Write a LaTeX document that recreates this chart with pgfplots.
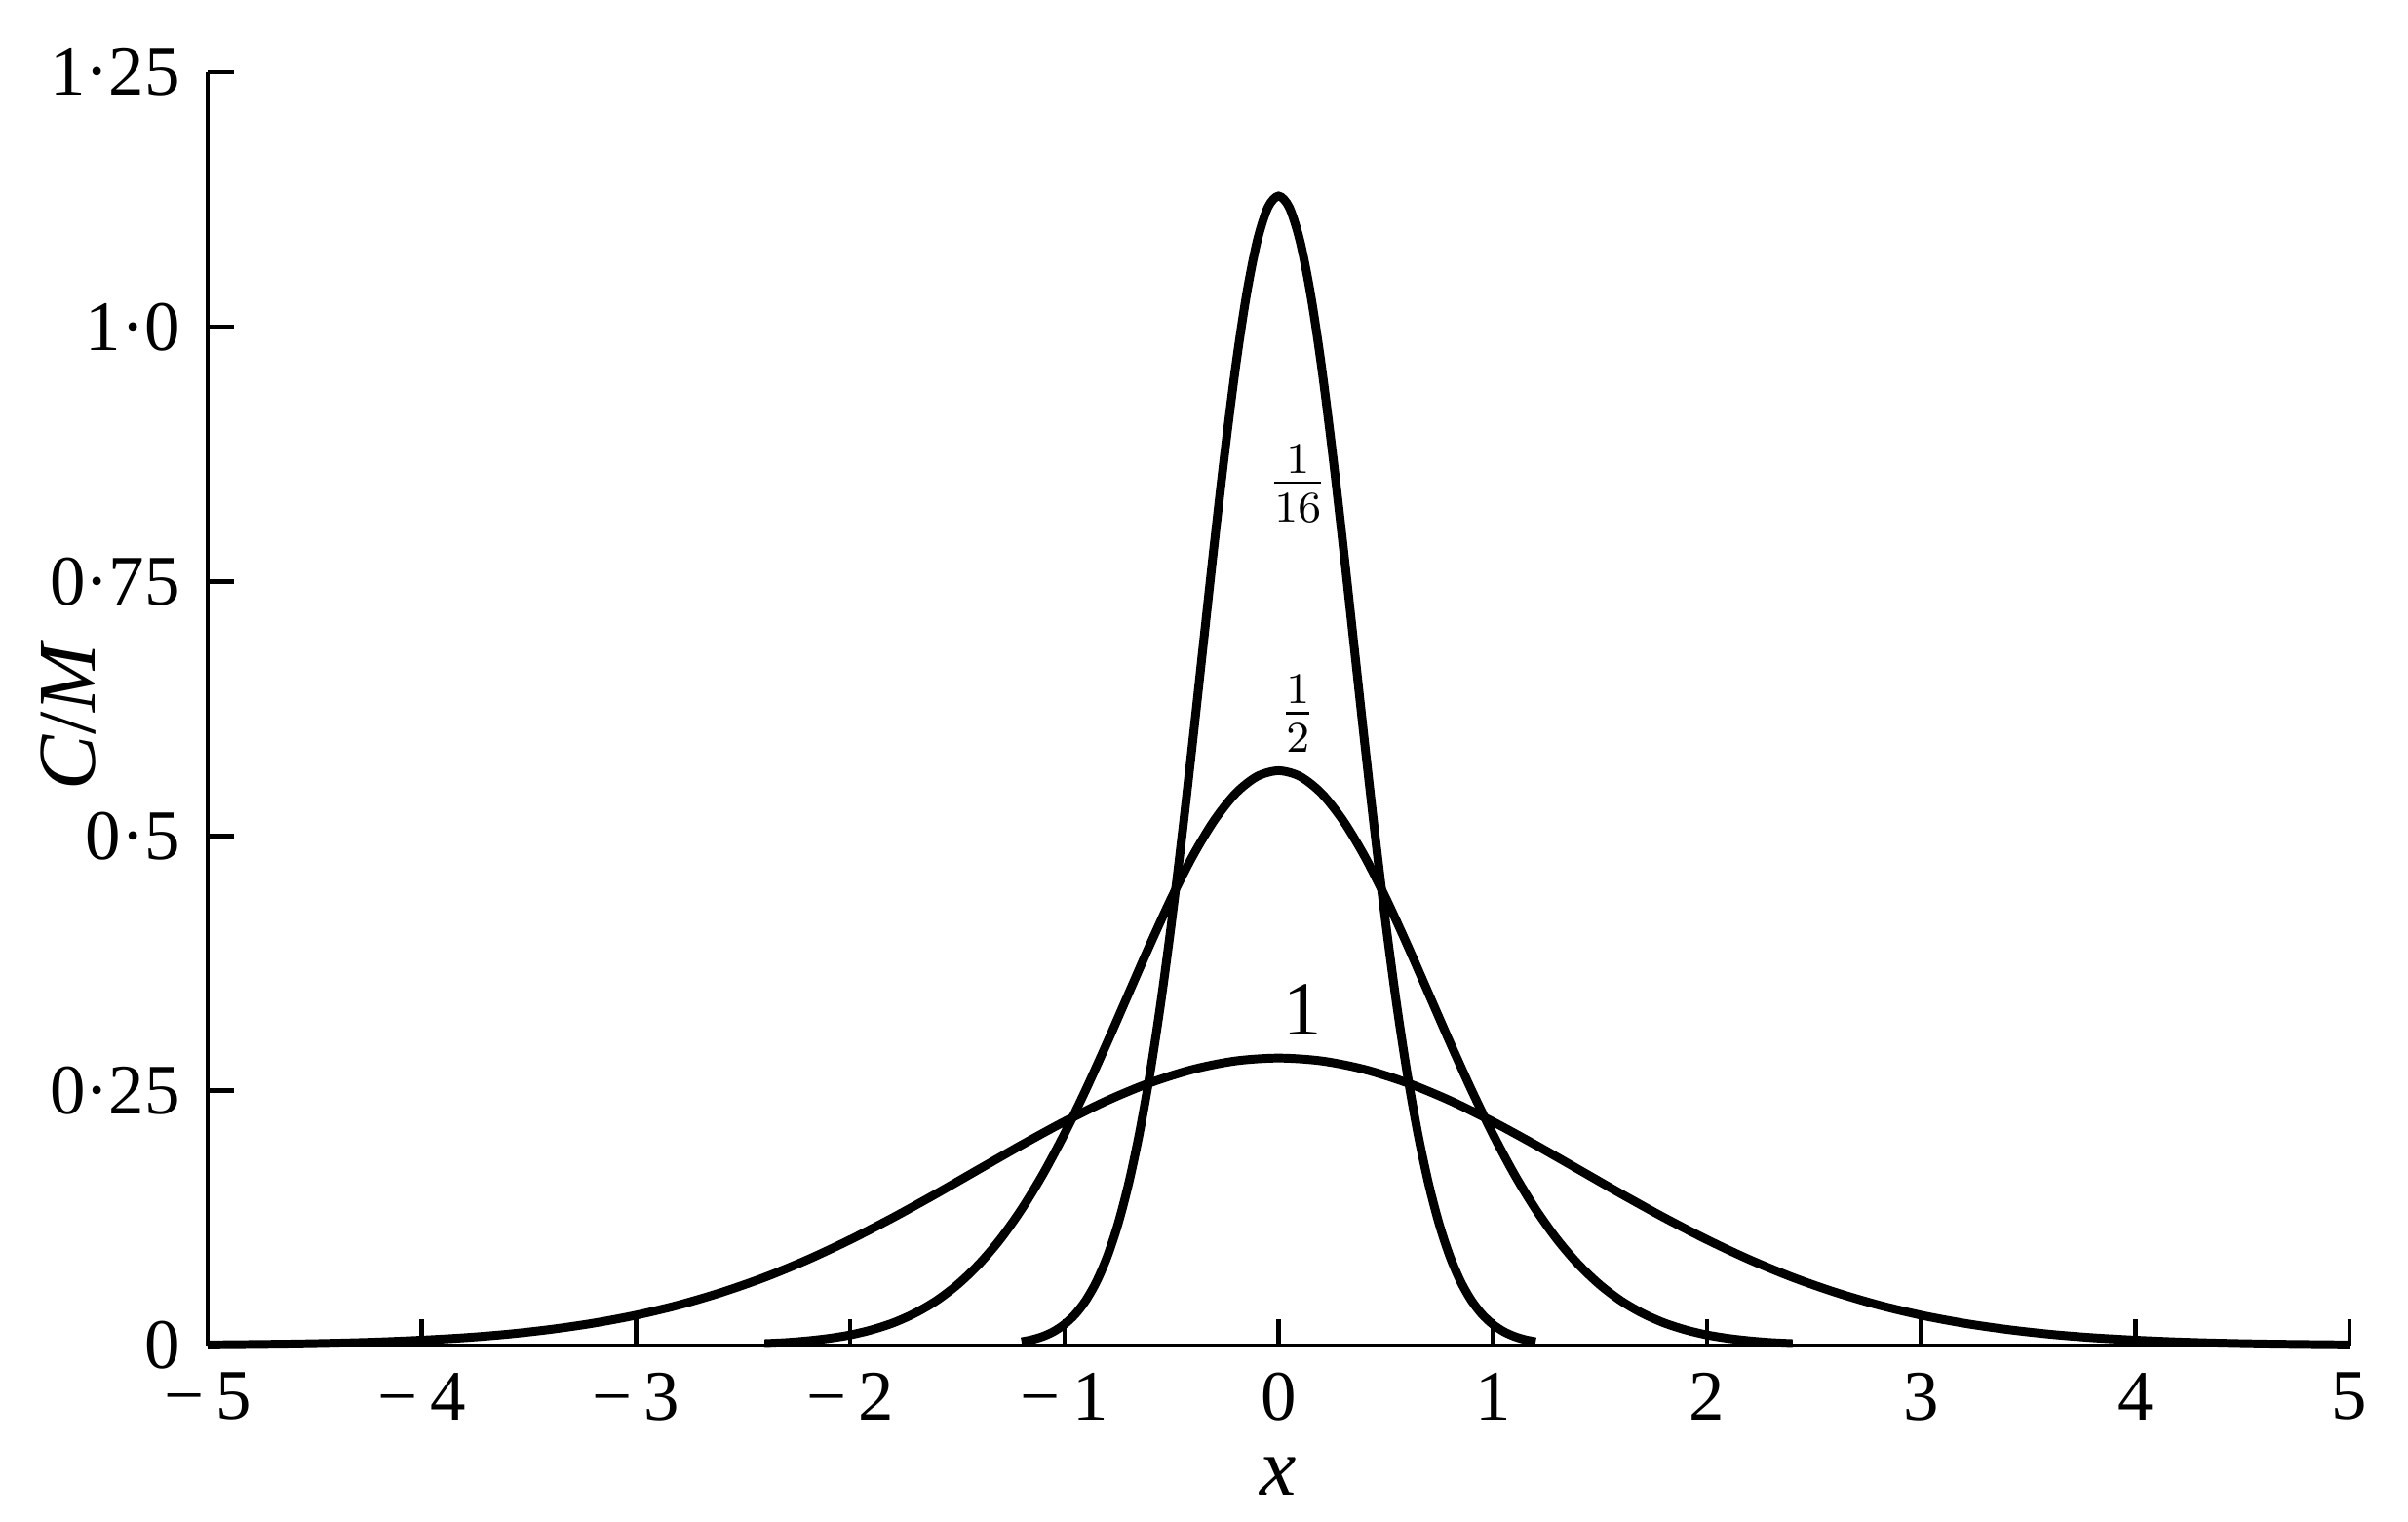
\documentclass[border=0pt]{standalone}
\usepackage{fontspec}
\setmainfont{Liberation Serif}
\usepackage{pgfplots}
\pgfplotsset{compat=1.18}

\begin{document}
\begin{tikzpicture}
\begin{axis}[
  scale only axis,
  width=392pt,
  height=233pt,
  xmin=-5, xmax=5,
  ymin=0, ymax=1.25,
  axis lines*=left,
  axis line style={line width=0.8pt},
  tick align=inside,
  major tick length=4.8pt,
  tick style={line width=0.8pt, black},
  xtick={-5,-4,-3,-2,-1,0,1,2,3,4,5},
  xticklabels={−\,5,−\,4,−\,3,−\,2,−\,1,0,1,2,3,4,5},
  ytick={0,0.25,0.5,0.75,1.0,1.25},
  yticklabels={0,0·25,0·5,0·75,1·0,1·25},
  tick label style={font=\fontsize{13}{15}\selectfont},
  xticklabel style={yshift=-1.5pt},
  yticklabel style={xshift=-1.5pt},
  xlabel={\textit{x}},
  ylabel={\textit{C}/\textit{M}},
  label style={font=\fontsize{15}{17}\selectfont},
  xlabel style={at={(rel axis cs:0.5,0)}, anchor=center, yshift=-24pt},
  ylabel style={at={(rel axis cs:-0.065,0.495)}, anchor=center},
  clip=false,
]
% t = 1/16
\addplot[black, line width=1.6pt, smooth] coordinates {
(-1.2,0.0036) (-1.15,0.0057) (-1.1,0.0089) (-1.05,0.0137) (-1.0,0.0207)
(-0.95,0.0305) (-0.9,0.0442) (-0.85,0.0627) (-0.8,0.0872) (-0.75,0.1189)
(-0.7,0.1590) (-0.65,0.2082) (-0.6,0.2674) (-0.55,0.3365) (-0.5,0.4151)
(-0.45,0.5020) (-0.4,0.5950) (-0.35,0.6913) (-0.3,0.7873) (-0.25,0.8788)
(-0.2,0.9616) (-0.15,1.0313) (-0.1,1.0842) (-0.05,1.1172) (0,1.1284)
(0.05,1.1172) (0.1,1.0842) (0.15,1.0313) (0.2,0.9616) (0.25,0.8788)
(0.3,0.7873) (0.35,0.6913) (0.4,0.5950) (0.45,0.5020) (0.5,0.4151)
(0.55,0.3365) (0.6,0.2674) (0.65,0.2082) (0.7,0.1590) (0.75,0.1189)
(0.8,0.0872) (0.85,0.0627) (0.9,0.0442) (0.95,0.0305) (1.0,0.0207)
(1.05,0.0137) (1.1,0.0089) (1.15,0.0057) (1.2,0.0036)
};
% t = 1/4
\addplot[black, line width=1.6pt, smooth] coordinates {
(-2.4,0.0018) (-2.3,0.0028) (-2.2,0.0045) (-2.1,0.0069) (-2.0,0.0103)
(-1.9,0.0153) (-1.8,0.0221) (-1.7,0.0314) (-1.6,0.0436) (-1.5,0.0595)
(-1.4,0.0795) (-1.3,0.1041) (-1.2,0.1337) (-1.1,0.1682) (-1.0,0.2076)
(-0.9,0.2510) (-0.8,0.2975) (-0.7,0.3456) (-0.6,0.3936) (-0.5,0.4394)
(-0.4,0.4808) (-0.3,0.5156) (-0.2,0.5421) (-0.1,0.5586) (0,0.5642)
(0.1,0.5586) (0.2,0.5421) (0.3,0.5156) (0.4,0.4808) (0.5,0.4394)
(0.6,0.3936) (0.7,0.3456) (0.8,0.2975) (0.9,0.2510) (1.0,0.2076)
(1.1,0.1682) (1.2,0.1337) (1.3,0.1041) (1.4,0.0795) (1.5,0.0595)
(1.6,0.0436) (1.7,0.0314) (1.8,0.0221) (1.9,0.0153) (2.0,0.0103)
(2.1,0.0069) (2.2,0.0045) (2.3,0.0028) (2.4,0.0018)
};
% t = 1
\addplot[black, line width=1.6pt, smooth] coordinates {
(-5.0,0.0005) (-4.8,0.0009) (-4.6,0.0014) (-4.4,0.0022) (-4.2,0.0034)
(-4.0,0.0052) (-3.8,0.0076) (-3.6,0.0110) (-3.4,0.0157) (-3.2,0.0218)
(-3.0,0.0297) (-2.8,0.0397) (-2.6,0.0521) (-2.4,0.0668) (-2.2,0.0841)
(-2.0,0.1038) (-1.8,0.1255) (-1.6,0.1487) (-1.4,0.1728) (-1.2,0.1968)
(-1.0,0.2197) (-0.8,0.2404) (-0.6,0.2578) (-0.4,0.2710) (-0.2,0.2793)
(0,0.2821)
(0.2,0.2793) (0.4,0.2710) (0.6,0.2578) (0.8,0.2404) (1.0,0.2197)
(1.2,0.1968) (1.4,0.1728) (1.6,0.1487) (1.8,0.1255) (2.0,0.1038)
(2.2,0.0841) (2.4,0.0668) (2.6,0.0521) (2.8,0.0397) (3.0,0.0297)
(3.2,0.0218) (3.4,0.0157) (3.6,0.0110) (3.8,0.0076) (4.0,0.0052)
(4.2,0.0034) (4.4,0.0022) (4.6,0.0014) (4.8,0.0009) (5.0,0.0005)
};
\node[font=\fontsize{12}{12}\selectfont] at (axis cs:0.09,0.846) {$\frac{1}{16}$};
\node[font=\fontsize{12}{12}\selectfont] at (axis cs:0.09,0.62) {$\frac{1}{2}$};
\node[font=\fontsize{14}{14}\selectfont] at (axis cs:0.11,0.33) {1};
\coordinate (bl) at (rel axis cs:0,0);
\coordinate (tr) at (rel axis cs:1,1);
\end{axis}
\pgfresetboundingbox
\path[use as bounding box] ([shift={(-38pt,-32.3pt)}]bl) rectangle ([shift={(10.7pt,13.2pt)}]tr);
\end{tikzpicture}
\end{document}
